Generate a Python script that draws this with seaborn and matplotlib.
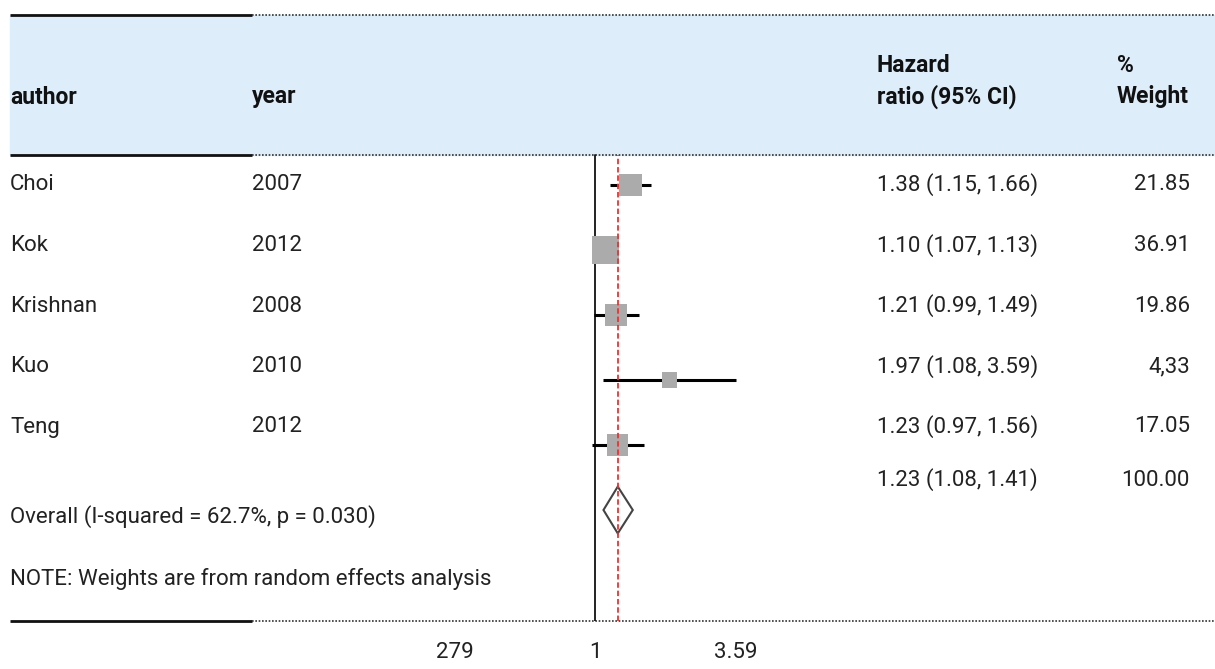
import numpy as np
import matplotlib
matplotlib.use("Agg")
import matplotlib.pyplot as plt
from matplotlib.ticker import NullLocator
import seaborn as sns

# study data (hazard ratios with 95% CI, random effects weights)
authors = ["Choi", "Kok", "Krishnan", "Kuo", "Teng"]
years = ["2007", "2012", "2008", "2010", "2012"]
hr = [1.38, 1.10, 1.21, 1.97, 1.23]
ci_low = [1.15, 1.07, 0.99, 1.08, 0.97]
ci_high = [1.66, 1.13, 1.49, 3.59, 1.56]
weights = [21.85, 36.91, 19.86, 4.33, 17.05]
weight_labels = ["21.85", "36.91", "19.86", "4,33", "17.05"]

overall_hr = 1.23
overall_low = 1.08
overall_high = 1.41
overall_weight = "100.00"
overall_label = "Overall (I-squared = 62.7%, p = 0.030)"
note = "NOTE: Weights are from random effects analysis"

tick_values = [0.279, 1, 3.59]
tick_labels = ["279", "1", "3.59"]

sns.set_style("white")
plt.rcParams["font.family"] = ["Roboto", "DejaVu Sans"]

W, H = 1215, 669
fig = plt.figure(figsize=(W / 100, H / 100), dpi=100)

# background axes in pixel coordinates for the table part
bg = fig.add_axes([0, 0, 1, 1])
bg.set_xlim(0, W)
bg.set_ylim(H, 0)
bg.axis("off")

bg.add_patch(plt.Rectangle((10, 15), W - 10, 140, color="#ddedfa", zorder=0))
for y in (15, 155, 621):
    bg.plot([10, 252], [y, y], color="#111111", lw=2, solid_capstyle="butt")
    bg.plot([252, W], [y, y], color="#333333", lw=1.2, linestyle=(0, (1, 1)))

fs = 16
head = dict(fontsize=16.5, fontweight="bold", color="#111111", va="center")
bg.text(10, 97, "author", **head)
bg.text(252, 97, "year", **head)
bg.text(877, 65, "Hazard", **head)
bg.text(877, 97, "ratio (95% CI)", **head)
bg.text(1117, 65, "%", **head)
bg.text(1117, 97, "Weight", **head)

body = dict(fontsize=fs, color="#222222", va="center")
row_step = 60.5
for i, name in enumerate(authors):
    y = 185 + row_step * i
    bg.text(10, y, name, **body)
    bg.text(252, y, years[i], **body)
    bg.text(877, y, f"{hr[i]:.2f} ({ci_low[i]:.2f}, {ci_high[i]:.2f})", **body)
    bg.text(1190, y, weight_labels[i], ha="right", **body)

bg.text(877, 480, f"{overall_hr:.2f} ({overall_low:.2f}, {overall_high:.2f})", **body)
bg.text(1190, 480, overall_weight, ha="right", **body)
bg.text(10, 517, overall_label, **body)
bg.text(10, 579, note, **body)

# forest panel: log x scale, 1 at pixel 595, 110 px per log unit
ax = fig.add_axes([0, (H - 621) / H, 1, 621 / H])
ax.patch.set_alpha(0)
ax.set_xscale("log")
ax.set_xlim(np.exp(-595 / 110), np.exp((W - 595) / 110))
ax.set_ylim((621 - 185) / 65, -185 / 65)
for s in ax.spines.values():
    s.set_visible(False)

rows = np.arange(len(authors))
top_frac = (621 - 155) / 621
ax.axvline(1, ymin=0, ymax=top_frac, color="#111111", lw=1.3, zorder=1)
ax.axvline(overall_hr, ymin=0, ymax=top_frac, color="#ff2a2a", lw=1.3,
           linestyle=(0, (3, 1.6)), zorder=4)

ax.hlines(rows, ci_low, ci_high, color="black", lw=2.2, zorder=2)
side_px = 8.8 + 3 * np.sqrt(np.array(weights))
sns.scatterplot(x=hr, y=rows, s=(side_px * 0.72) ** 2, marker="s",
                color="#ababab", edgecolor="none", legend=False, ax=ax, zorder=3)

yo = len(authors)
ax.fill([overall_low, overall_hr, overall_high, overall_hr],
        [yo, yo - 0.36, yo, yo + 0.36], fill=False, edgecolor="#444444",
        lw=1.5, zorder=3)

ax.set_xticks(tick_values)
ax.set_xticklabels(tick_labels)
ax.xaxis.set_minor_locator(NullLocator())
ax.tick_params(axis="x", which="both", length=0, pad=15, labelsize=fs,
               labelcolor="#222222")
ax.set_yticks([])
ax.set_xlabel("")
ax.set_ylabel("")

fig.savefig("out.png", dpi=100)
